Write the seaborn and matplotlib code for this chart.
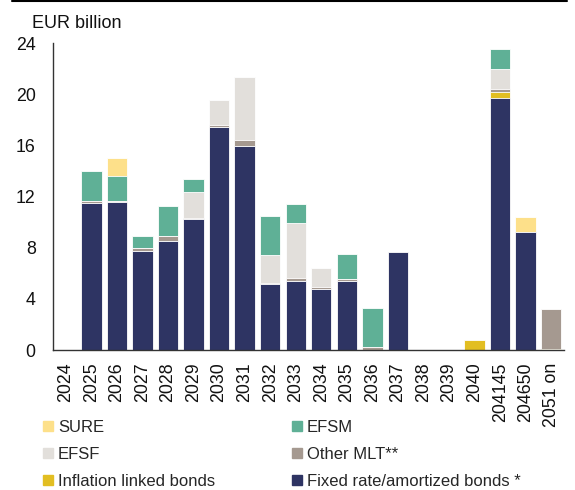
import matplotlib
matplotlib.use("Agg")
import matplotlib.pyplot as plt
from matplotlib.lines import Line2D
import numpy as np
import pandas as pd
import seaborn as sns

categories = ["2024", "2025", "2026", "2027", "2028", "2029", "2030", "2031", "2032",
              "2033", "2034", "2035", "2036", "2037", "2038", "2039", "2040",
              "204145", "204650", "2051 on"]

fixed     = [0, 11.5, 11.6, 7.75, 8.5, 10.25, 17.45, 16.0, 5.2, 5.4, 4.8, 5.4, 0, 7.7, 0, 0, 0, 19.75, 9.2, 0]
inflation = [0, 0, 0, 0, 0, 0, 0, 0, 0, 0, 0, 0, 0, 0, 0, 0, 0.75, 0.4, 0, 0.1]
other_mlt = [0, 0.15, 0.05, 0.2, 0.45, 0.1, 0.15, 0.4, 0.05, 0.2, 0.1, 0.15, 0.25, 0, 0, 0, 0, 0.25, 0, 3.1]
efsf      = [0, 0, 0, 0, 0, 2.05, 1.95, 4.95, 2.2, 4.3, 1.5, 0, 0, 0, 0, 0, 0, 1.6, 0, 0]
efsm      = [0, 2.35, 2.0, 1.0, 2.3, 1.0, 0, 0, 3.0, 1.5, 0, 2.0, 3.05, 0, 0, 0, 0, 1.55, 0, 0]
sure      = [0, 0, 1.35, 0, 0, 0, 0, 0, 0, 0, 0, 0, 0, 0, 0, 0, 0, 0, 1.2, 0]

series_names = ["Fixed rate/amortized bonds *", "Inflation linked bonds", "Other MLT**",
                "EFSF", "EFSM", "SURE"]
series_vals = [fixed, inflation, other_mlt, efsf, efsm, sure]
colors = {"Fixed rate/amortized bonds *": "#2e3463",
          "Inflation linked bonds": "#e2be22",
          "Other MLT**": "#a59990",
          "EFSF": "#e2dfdb",
          "EFSM": "#5fb096",
          "SURE": "#fde08a"}

sns.set_theme(style="white")
plt.rcParams["font.family"] = ["Liberation Sans", "DejaVu Sans"]

fig = plt.figure(figsize=(5.75, 4.9), dpi=100)
ax = fig.add_axes([53 / 575, (490 - 350) / 490, (564 - 53) / 575, (350 - 43.3) / 490])

df = pd.DataFrame({"cat": categories})
for n, v in zip(series_names, series_vals):
    df[n] = v
cum = df[series_names].cumsum(axis=1)

# draw cumulative totals from the top layer down so lower layers overlay
for n in reversed(series_names):
    sns.barplot(x=df["cat"], y=cum[n], order=categories, color=colors[n], saturation=1,
                width=0.8, edgecolor="white", linewidth=0.6, ax=ax, errorbar=None)

ax.set_ylim(0, 24)
ax.set_xlim(-0.5, len(categories) - 0.5)
ax.set_yticks([0, 4, 8, 12, 16, 20, 24])
ax.set_xlabel("")
ax.set_ylabel("")
ax.tick_params(axis="both", length=0, labelsize=12.8, colors="#111111")
ax.tick_params(axis="y", pad=12.5)
ax.tick_params(axis="x", pad=9)
plt.setp(ax.get_xticklabels(), rotation=90, va="top", ha="center")
for s in ["top", "right"]:
    ax.spines[s].set_visible(False)
for s in ["left", "bottom"]:
    ax.spines[s].set_color("#333333")
    ax.spines[s].set_linewidth(1.0)

fig.text(32 / 575, 1 - 23 / 490, "EUR billion", fontsize=13, va="center", ha="left", color="#111111")

# top rule
fig.add_artist(Line2D([12 / 575, 567 / 575], [1 - 0.8 / 490, 1 - 0.8 / 490], color="black",
                      linewidth=1.5, transform=fig.transFigure))

order_legend = ["SURE", "EFSF", "Inflation linked bonds", "EFSM", "Other MLT**",
                "Fixed rate/amortized bonds *"]
handles = [Line2D([], [], marker="s", linestyle="none", markersize=6.5,
                  markerfacecolor=colors[n], markeredgecolor=colors[n]) for n in order_legend]
fig.legend(handles, order_legend, ncol=2, loc="upper left",
           bbox_to_anchor=(43 / 575, 1 - 420 / 490), frameon=False, fontsize=12,
           handlelength=0.6, handletextpad=0.3, columnspacing=4.6, labelspacing=0.72,
           borderaxespad=0, borderpad=0)

fig.savefig("out.png", dpi=100, facecolor="white")
